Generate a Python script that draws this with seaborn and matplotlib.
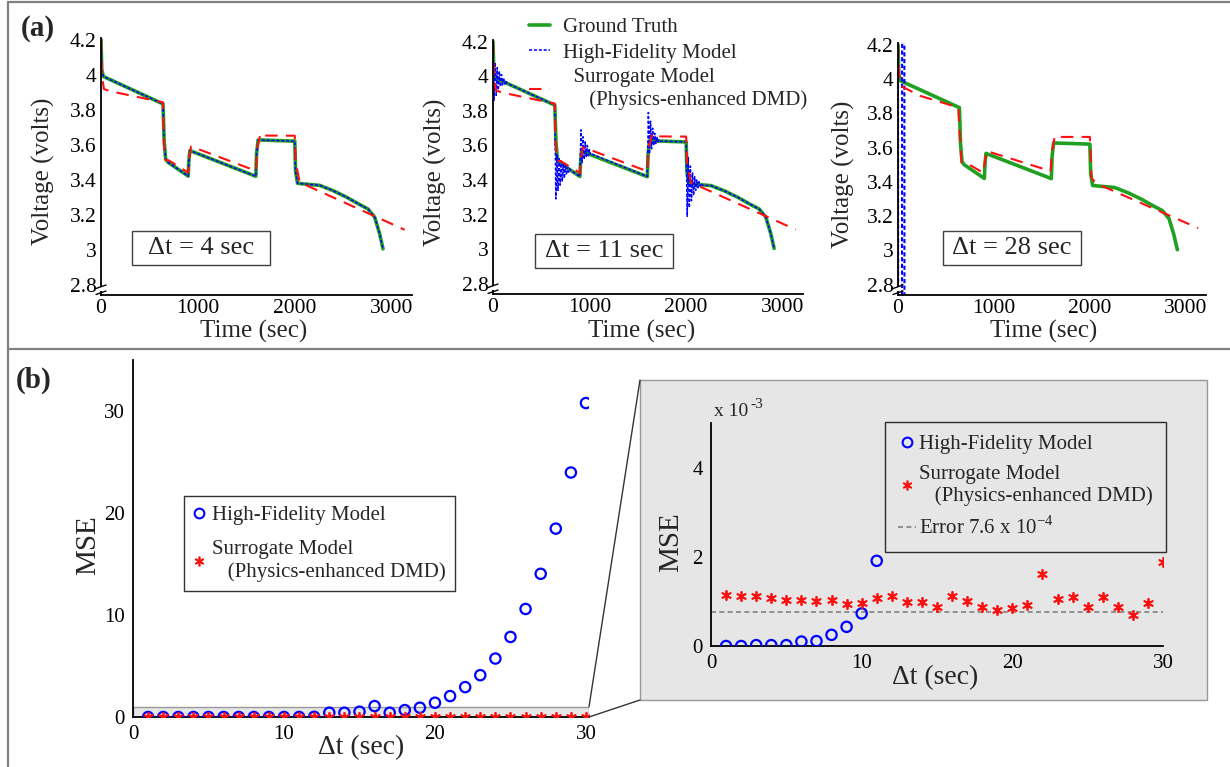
import numpy as np
import pandas as pd
import matplotlib
matplotlib.use("Agg")
import matplotlib.pyplot as plt
import seaborn as sns
from matplotlib.lines import Line2D
from matplotlib.patches import Rectangle, ConnectionPatch
from matplotlib.ticker import FuncFormatter

# ------------------------------------------------------------------ data
truth_t = [0, 8, 24, 640, 652, 667, 690, 900, 906, 917, 1598, 1606, 1622, 2000,
           2008, 2028, 2100, 2258, 2395, 2533, 2670, 2756, 2825, 2876, 2911]
truth_v = [4.20, 4.03, 3.99, 3.833, 3.62, 3.518, 3.50, 3.42, 3.50, 3.566, 3.419,
           3.55, 3.627, 3.62, 3.45, 3.379, 3.375, 3.367, 3.337, 3.30, 3.257, 3.232,
           3.185, 3.09, 3.004]

hf11_t = [0, 11, 22, 33, 44, 55, 66, 77, 88, 99, 110, 121, 132, 143,
          640, 651, 662, 673, 684, 695, 706, 717, 728, 739, 750, 761, 772, 783, 794, 805,
          900, 911, 922, 933, 944, 955, 966, 977, 988, 999, 1010, 1021,
          1598, 1609, 1620, 1631, 1642, 1653, 1664, 1675, 1686, 1697, 1708, 1719, 1730,
          2000, 2011, 2022, 2033, 2044, 2055, 2066, 2077, 2088, 2099, 2110, 2121, 2132,
          2143, 2154, 2165, 2258, 2395, 2533, 2670, 2756, 2825, 2876, 2911]
hf11_v = [4.20, 3.86, 4.08, 3.89, 4.05, 3.92, 4.03, 3.94, 4.01, 3.95, 3.99, 3.955, 3.975, 3.96,
          3.833, 3.29, 3.55, 3.34, 3.53, 3.37, 3.51, 3.39, 3.50, 3.41, 3.49, 3.43, 3.475,
          3.445, 3.465, 3.455,
          3.42, 3.69, 3.50, 3.65, 3.52, 3.62, 3.53, 3.60, 3.54, 3.575, 3.545, 3.55,
          3.42, 3.79, 3.55, 3.74, 3.58, 3.70, 3.60, 3.67, 3.61, 3.65, 3.62, 3.635, 3.625,
          3.62, 3.19, 3.53, 3.24, 3.48, 3.28, 3.44, 3.31, 3.42, 3.34, 3.40, 3.355, 3.39,
          3.365, 3.38, 3.37, 3.367, 3.337, 3.30, 3.257, 3.232, 3.185, 3.09, 3.004]

hf28_t = [0, 28, 56, 84]
hf28_v = [4.20, -20.0, 25.0, -30.0]

sur_t = [0, 10, 30, 100, 640, 650, 665, 700, 900, 910, 930, 1600, 1610, 1650, 1700,
         2000, 2010, 2050, 3134]
sur_v = [4.20, 4.00, 3.918, 3.905, 3.842, 3.60, 3.512, 3.51, 3.44, 3.52, 3.59, 3.45,
         3.58, 3.667, 3.652, 3.651, 3.50, 3.385, 3.113]
sur28_t = [0, 12, 38, 229, 628, 640, 663, 750, 889, 900, 924, 1590, 1605, 1635, 1700,
           2000, 2017, 2070, 3128]
sur28_v = [4.20, 4.02, 3.957, 3.902, 3.834, 3.70, 3.512, 3.498, 3.453, 3.50, 3.58, 3.463,
           3.58, 3.668, 3.662, 3.662, 3.42, 3.39, 3.13]

dt_labels = ["\u0394t = 4 sec", "\u0394t = 11 sec", "\u0394t = 28 sec"]

dt_steps = list(range(1, 31))
mse_hf = [0.0, 0.0, 0.00002, 0.00002, 0.00002, 0.00010, 0.00011, 0.00025, 0.00043,
          0.00073, 0.00191, 0.02, 0.42, 0.42, 0.52, 1.07, 0.42, 0.68, 0.91, 1.40,
          2.05, 2.93, 4.10, 5.73, 7.85, 10.59, 14.04, 18.47, 23.97, 30.78]
mse_sur = [1.15e-3, 1.11e-3, 1.12e-3, 1.07e-3, 1.03e-3, 1.03e-3, 1.02e-3, 1.03e-3,
           0.94e-3, 0.97e-3, 1.07e-3, 1.11e-3, 0.98e-3, 0.98e-3, 0.88e-3, 1.13e-3,
           1.02e-3, 0.88e-3, 0.81e-3, 0.86e-3, 0.91e-3, 1.62e-3, 1.05e-3, 1.09e-3,
           0.87e-3, 1.09e-3, 0.87e-3, 0.70e-3, 0.97e-3, 1.88e-3]
error_level = 7.6e-4

# ------------------------------------------------------------------ style
sns.set_theme(style="white")
plt.rcParams["font.family"] = ["Liberation Serif", "DejaVu Serif"]
plt.rcParams["mathtext.fontset"] = "custom"
plt.rcParams["mathtext.rm"] = "Liberation Serif"
plt.rcParams["axes.edgecolor"] = "black"
plt.rcParams["axes.linewidth"] = 1.3

W, H = 1230, 767
fig = plt.figure(figsize=(W / 100, H / 100), dpi=100)


def px_rect(l, t, r, b):
    return [l / W, 1 - b / H, (r - l) / W, (b - t) / H]


def fx(x):
    return x / W


def fy(y):
    return 1 - y / H


GREEN = "#20a020"
BLUE = "#0000ff"
RED = "#ff1010"

# panel frame lines
frame_kw = dict(color="#808080", lw=1.6, transform=fig.transFigure)
fig.add_artist(Line2D([fx(8), fx(1230)], [fy(2), fy(2)], **frame_kw))
fig.add_artist(Line2D([fx(8), fx(8)], [fy(2), fy(767)], **frame_kw))
fig.add_artist(Line2D([fx(8), fx(1230)], [fy(349), fy(349)], **frame_kw))

fig.text(fx(38), fy(29), "(a)", fontsize=21, fontweight="bold", ha="center", va="center")
fig.text(fx(34), fy(380), "(b)", fontsize=21, fontweight="bold", ha="center", va="center")

# ------------------------------------------------------------------ panel (a)
top_rects = [(101, 38, 412, 295), (493, 40, 803, 294), (898, 43, 1206, 295)]
hf_sets = [(truth_t, truth_v), (hf11_t, hf11_v), (hf28_t, hf28_v)]
sur_sets = [(sur_t, sur_v), (sur_t, sur_v), (sur28_t, sur28_v)]
box_centers = [(201, 248), (604, 251), (1012, 248)]
ylab_x = [43, 435, 843]
xlab_x = [254, 642, 1044]

for i, rect in enumerate(top_rects):
    ax = fig.add_axes(px_rect(*rect))
    ax.set_facecolor("none")
    sns.lineplot(x=truth_t, y=truth_v, ax=ax, color=GREEN, lw=2.6, sort=False,
                 estimator=None)
    sns.lineplot(x=hf_sets[i][0], y=hf_sets[i][1], ax=ax, color=BLUE,
                 lw=1.1 if i < 2 else 1.5,
                 sort=False, estimator=None, linestyle=(0, (2.0, 1.2)))
    sns.lineplot(x=sur_sets[i][0], y=sur_sets[i][1], ax=ax, color=RED, lw=1.5,
                 sort=False, estimator=None, linestyle=(0, (6, 4)))
    ax.set_xlim(0, 3210)
    ax.set_ylim(2.74, 4.21)
    ax.set_xticks(np.arange(0, 3001, 500))
    ax.set_xticklabels(["0", "", "1000", "", "2000", "", "3000"])
    yt = [2.8, 3.0, 3.2, 3.4, 3.6, 3.8, 4.0, 4.2]
    ax.set_yticks(yt)
    ax.set_yticklabels(["2.8", "3", "3.2", "3.4", "3.6", "3.8", "4", "4.2"])
    for s in ["top", "right"]:
        ax.spines[s].set_visible(False)
    ax.tick_params(direction="in", length=5, width=1.1, labelsize=15.5, pad=3,
                   colors="black")
    ax.set_xlabel("")
    ax.set_ylabel("")
    l, t, r, b = rect
    # break mark on y axis
    fig.add_artist(Rectangle((fx(l - 2), fy(b - 4)), fx(4), 4.5 / H,
                             transform=fig.transFigure, facecolor="white",
                             edgecolor="none", zorder=5))
    fig.add_artist(Line2D([fx(l - 5), fx(l + 5)], [fy(b - 6.5), fy(b - 10)],
                          color="black", lw=1.0, transform=fig.transFigure, zorder=6))
    fig.add_artist(Line2D([fx(l - 5), fx(l + 5)], [fy(b - 0.5), fy(b - 4)],
                          color="black", lw=1.0, transform=fig.transFigure, zorder=6))
    # delta-t box
    cx, cy = box_centers[i]
    fig.add_artist(Rectangle((fx(cx - 69), fy(cy + 17)), 138 / W, 34 / H,
                             transform=fig.transFigure, facecolor="white",
                             edgecolor="#404040", lw=1.0, zorder=4))
    fig.text(fx(cx), fy(cy), dt_labels[i], fontsize=19, ha="center", va="center",
             zorder=5)
    fig.text(fx(ylab_x[i]), fy((t + b) / 2 + 5), "Voltage (volts)", fontsize=18,
             rotation=90, ha="center", va="center")
    fig.text(fx(xlab_x[i]), fy(331), "Time (sec)", fontsize=18, ha="center",
             va="center")

top_handles = [Line2D([], [], color=GREEN, lw=2.6),
               Line2D([], [], color=BLUE, lw=1.1, linestyle=(0, (2.0, 1.2))),
               Line2D([], [], color=RED, lw=1.5, linestyle=(0, (6, 4)))]
top_labels = ["Ground Truth", "High-Fidelity Model",
              "  Surrogate Model\n     (Physics-enhanced DMD)"]
fig.legend(top_handles, top_labels, loc="upper left",
           bbox_to_anchor=(fx(514), fy(3)), bbox_transform=fig.transFigure,
           frameon=False, fontsize=15, handlelength=1.05, handletextpad=0.58,
           labelspacing=0.28, borderpad=0.2)

# ------------------------------------------------------------------ panel (b) main
axm = fig.add_axes(px_rect(133, 360, 589, 717))
axm.set_facecolor("none")
axm.add_patch(Rectangle((0, 0), 30.2, 1.0, facecolor="#e6e6e6", edgecolor="#999999",
                        lw=1.0, zorder=0))
sns.scatterplot(x=dt_steps, y=mse_hf, ax=axm, marker="o", s=55, facecolor="none",
                edgecolor=BLUE, linewidth=1.6, zorder=3)
sns.scatterplot(x=dt_steps, y=mse_sur, ax=axm, marker=(6, 2, 0), s=45, color=RED,
                edgecolor=RED, linewidth=1.3, zorder=4)
axm.set_xlim(0, 30.2)
axm.set_ylim(0, 35)
axm.set_xticks(np.arange(0, 31, 5))
axm.set_xticklabels(["0", "", "10", "", "20", "", "30"])
axm.set_yticks(np.arange(0, 36, 5))
axm.set_yticklabels(["0", "", "10", "", "20", "", "30", ""])
for s in ["top", "right"]:
    axm.spines[s].set_visible(False)
axm.tick_params(direction="in", length=5, width=1.1, labelsize=15, pad=6, colors="black")
axm.set_xlabel("")
axm.set_ylabel("")
fig.text(fx(361), fy(748), "\u0394t (sec)", fontsize=20, ha="center", va="center")
fig.text(fx(88), fy(545), "MSE", fontsize=21, rotation=90, ha="center", va="center")

main_handles = [Line2D([], [], ls="none", marker="o", ms=7, mfc="none", mec=BLUE, mew=1.5),
                Line2D([], [], ls="none", marker=(6, 2, 0), ms=7, mec=RED, mfc=RED, mew=1.2)]
main_labels = ["High-Fidelity Model", "Surrogate Model\n   (Physics-enhanced DMD)"]
lg = fig.legend(main_handles, main_labels, loc="upper left",
                bbox_to_anchor=(fx(184), fy(496)), bbox_transform=fig.transFigure,
                frameon=True, fontsize=15, handlelength=0.55, handletextpad=0.35,
                labelspacing=0.72, borderpad=0.45, borderaxespad=0, fancybox=False)
lg.get_frame().set_edgecolor("black")
lg.get_frame().set_linewidth(1.0)
lg.get_frame().set_facecolor("white")

# ------------------------------------------------------------------ inset
fig.add_artist(Rectangle((fx(640), fy(700)), (1207 - 640) / W, (700 - 380) / H,
                         transform=fig.transFigure, facecolor="#e6e6e6",
                         edgecolor="#999999", lw=1.0, zorder=0))
con1 = ConnectionPatch(xyA=(30.2, 1.0), coordsA=axm.transData,
                       xyB=(fx(640), fy(380)), coordsB=fig.transFigure,
                       color="#333333", lw=1.0)
con2 = ConnectionPatch(xyA=(30.2, 0.0), coordsA=axm.transData,
                       xyB=(fx(640), fy(700)), coordsB=fig.transFigure,
                       color="#333333", lw=1.0)
fig.add_artist(con1)
fig.add_artist(con2)

axi = fig.add_axes(px_rect(711, 423, 1163, 646))
axi.set_facecolor("none")
axi.plot([0, 30], [error_level, error_level], color="#808080", lw=1.2,
         linestyle=(0, (3, 2)), zorder=1)
sns.scatterplot(x=dt_steps, y=mse_hf, ax=axi, marker="o", s=55, facecolor="none",
                edgecolor=BLUE, linewidth=1.6, zorder=3)
sns.scatterplot(x=dt_steps, y=mse_sur, ax=axi, marker=(6, 2, 0), s=45, color=RED,
                edgecolor=RED, linewidth=1.3, zorder=4)
axi.set_xlim(0, 30)
axi.set_ylim(0, 5e-3)
axi.set_xticks(np.arange(0, 31, 5))
axi.set_xticklabels(["0", "", "10", "", "20", "", "30"])
axi.set_yticks(np.arange(0, 5.01e-3, 1e-3))
axi.yaxis.set_major_formatter(FuncFormatter(
    lambda v, p: "%d" % round(v * 1e3) if round(v * 1e3) in (0, 2, 4) else ""))
for s in ["top", "right"]:
    axi.spines[s].set_visible(False)
axi.tick_params(direction="in", length=5, width=1.1, labelsize=15, pad=6, colors="black")
axi.set_xlabel("")
axi.set_ylabel("")
fig.text(fx(714), fy(412), "x 10", fontsize=14, ha="left", va="center")
fig.text(fx(750), fy(405), "-3", fontsize=11, ha="left", va="center")
fig.text(fx(935), fy(678), "\u0394t (sec)", fontsize=20, ha="center", va="center")
fig.text(fx(671), fy(542), "MSE", fontsize=21, rotation=90, ha="center", va="center")

inset_handles = [Line2D([], [], ls="none", marker="o", ms=7, mfc="none", mec=BLUE, mew=1.5),
                 Line2D([], [], ls="none", marker=(6, 2, 0), ms=7, mec=RED, mfc=RED, mew=1.2),
                 Line2D([], [], color="#808080", lw=1.2, linestyle=(0, (3, 2)))]
inset_labels = ["High-Fidelity Model", "Surrogate Model\n   (Physics-enhanced DMD)",
                "Error 7.6 x 10$^{-4}$"]
lgi = fig.legend(inset_handles, inset_labels, loc="upper left",
                 bbox_to_anchor=(fx(885), fy(422)), bbox_transform=fig.transFigure,
                 frameon=True, fontsize=15, handlelength=0.9, handletextpad=0.15,
                 labelspacing=0.5, borderpad=0.6, borderaxespad=0, fancybox=False)
lgi.get_frame().set_edgecolor("black")
lgi.get_frame().set_linewidth(1.0)
lgi.get_frame().set_facecolor("#e6e6e6")

fig.savefig("out.png", dpi=100)
